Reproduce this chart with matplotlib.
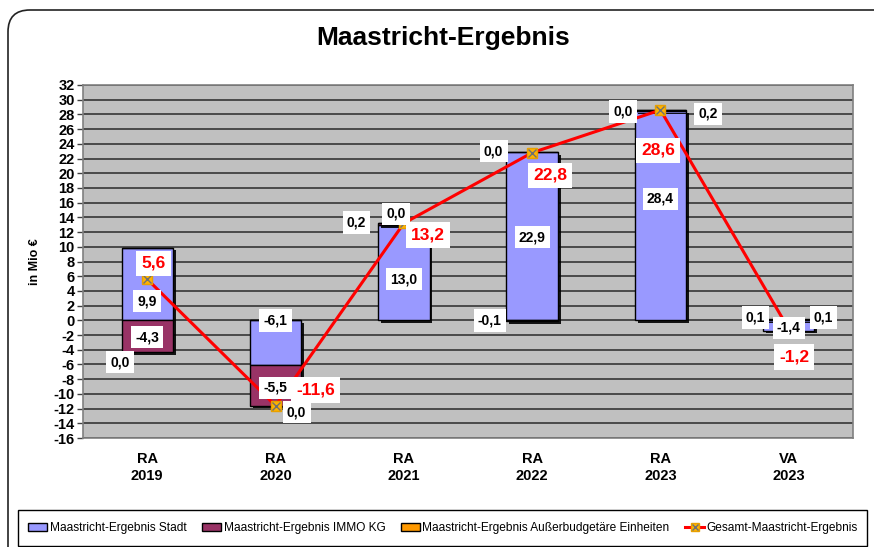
import matplotlib
matplotlib.use("Agg")
import matplotlib.pyplot as plt
import matplotlib.patheffects as pe
from matplotlib.patches import FancyBboxPatch, Rectangle, Patch
from matplotlib.lines import Line2D
import numpy as np

# data
categories = ["RA\n2019", "RA\n2020", "RA\n2021", "RA\n2022", "RA\n2023", "VA\n2023"]
stadt = [9.9, -6.1, 13.0, 22.9, 28.4, -1.4]
immo = [-4.3, -5.5, 0.2, -0.1, 0.2, 0.1]
ausser = [0.0, 0.0, 0.0, 0.0, 0.0, 0.1]
gesamt = [5.6, -11.6, 13.2, 22.8, 28.6, -1.2]
series_names = ["Maastricht-Ergebnis Stadt", "Maastricht-Ergebnis IMMO KG",
                "Maastricht-Ergebnis Außerbudgetäre Einheiten", "Gesamt-Maastricht-Ergebnis"]

plt.rcParams["font.family"] = ["Liberation Sans", "DejaVu Sans"]
plt.rcParams["axes.unicode_minus"] = False

col_stadt = "#9999FF"
col_immo = "#993366"
col_ausser = "#FF9900"

fig = plt.figure(figsize=(8.74, 5.47), dpi=100)
W, H = 874, 547

# outer rounded frame
frame = FancyBboxPatch((8 / W, -30 / H), 900 / W, 567 / H, transform=fig.transFigure,
                       boxstyle="round,pad=0,rounding_size=0.025", fc="white", ec="#222222",
                       lw=1.2, mutation_aspect=W / H, zorder=-10)
fig.patches.append(frame)

ax = fig.add_axes([83 / W, (H - 438) / H, (853 - 83) / W, (438 - 85) / H])
ax.set_facecolor("#C0C0C0")
for s in ax.spines.values():
    s.set_color("#808080")
    s.set_linewidth(1.2)

x = np.arange(len(categories))
width = 0.4

# stack positive and negative parts separately (like Excel)
pos_bottom = np.zeros(len(x))
neg_bottom = np.zeros(len(x))
shadow = [pe.SimplePatchShadow(offset=(2, -2), shadow_rgbFace="black", alpha=0.9), pe.Normal()]
for vals, col in [(stadt, col_stadt), (immo, col_immo), (ausser, col_ausser)]:
    vals = np.array(vals)
    bottoms = np.where(vals >= 0, pos_bottom, neg_bottom)
    bars = ax.bar(x, vals, width, bottom=bottoms, color=col, edgecolor="black",
                  linewidth=1.0, zorder=3)
    for b in bars:
        b.set_path_effects(shadow)
    pos_bottom += np.where(vals >= 0, vals, 0)
    neg_bottom += np.where(vals < 0, vals, 0)

# total line
ax.plot(x, gesamt, color="red", lw=2.2, zorder=4)
ax.plot(x, gesamt, ls="none", marker="s", ms=7, mfc="#FFB300", mec="#E8A000", zorder=5)
ax.plot(x, gesamt, ls="none", marker="x", ms=6, mec="#707070", mew=1, zorder=6)

ax.set_xlim(-0.5, len(x) - 0.5)
ax.set_ylim(-16, 32)
ax.set_yticks(np.arange(-16, 33, 2))
ax.yaxis.grid(True, color="#404040", lw=1.3, zorder=0)
ax.set_axisbelow(True)
ax.tick_params(axis="y", length=4, width=1, color="#404040", pad=2)
ax.tick_params(axis="x", length=0, pad=10)
ax.set_xticks(x)
ax.set_xticklabels(categories, fontweight="bold", fontsize=10.5, linespacing=1.3)
for lab in ax.get_yticklabels():
    lab.set_fontweight("bold")
    lab.set_fontsize(10.5)
ax.set_ylabel("in Mio €", fontweight="bold", fontsize=9, labelpad=9)


def fmt(v):
    return ("%.1f" % v).replace(".", ",")


box = dict(boxstyle="square,pad=0.3", fc="white", ec="none")

# label placements (x offset from category, y in data units)
stadt_pos = [(0, 2.6), (0, 0.0), (0, 5.6), (0, 11.3), (0, 16.5), (0, -1.0)]
immo_pos = [(0, -2.3), (0, -9.2), (-0.37, 13.3), (-0.33, 0.0), (0.37, 28.1), (0.27, 0.4)]
ausser_pos = [(-0.21, -5.7), (0.165, -12.5), (-0.06, 14.5), (-0.30, 23.0), (-0.29, 28.4), (-0.26, 0.4)]
gesamt_pos = [(0.05, 7.75), (0.31, -9.5), (0.19, 11.6), (0.14, 19.7), (-0.02, 23.1), (0.04, -5.0)]

for i in range(len(x)):
    for vals, pos in [(stadt, stadt_pos), (immo, immo_pos), (ausser, ausser_pos)]:
        dx, yy = pos[i]
        ax.text(x[i] + dx, yy, fmt(vals[i]), ha="center", va="center", fontsize=10,
                fontweight="bold", bbox=box, zorder=7)
    dx, yy = gesamt_pos[i]
    ax.text(x[i] + dx, yy, fmt(gesamt[i]), ha="center", va="center", fontsize=12.5,
            fontweight="bold", color="red", bbox=box, zorder=7)

fig.text(443 / W, 1 - 38 / H, "Maastricht-Ergebnis", ha="center", va="center",
         fontsize=19, fontweight="bold")

# legend
leg_box = Rectangle((18 / W, 1 - 546 / H), (867 - 18) / W, 36 / H, transform=fig.transFigure,
                    fc="white", ec="black", lw=1, zorder=-5)
fig.patches.append(leg_box)
handles = [Patch(fc=col_stadt, ec="black"), Patch(fc=col_immo, ec="black"),
           Patch(fc=col_ausser, ec="black"),
           (Line2D([], [], color="red", lw=2.2),
            Line2D([], [], ls="none", marker="s", ms=6, mfc="#FFB300", mec="#E8A000"),
            Line2D([], [], ls="none", marker="x", ms=5, mec="#707070"))]
fig.legend(handles, series_names, loc="center", bbox_to_anchor=(443 / W, 1 - 528 / H),
           ncol=4, frameon=False, fontsize=8.6, handlelength=1.6, handleheight=0.6,
           handletextpad=0.2, columnspacing=1.3)

fig.savefig("out.png", dpi=100)
